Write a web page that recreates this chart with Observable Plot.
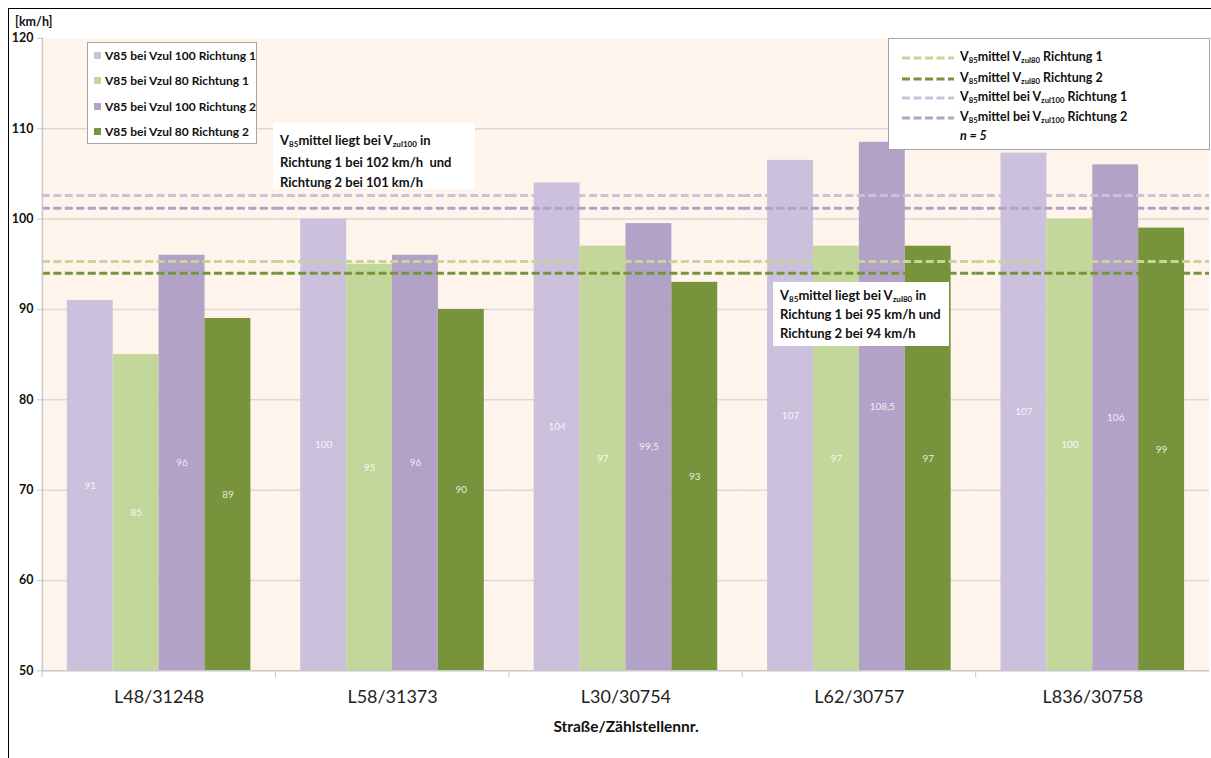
<!DOCTYPE html>
<html><head><meta charset="utf-8">
<script src="https://cdn.jsdelivr.net/npm/d3@7"></script>
<script src="https://cdn.jsdelivr.net/npm/@observablehq/plot@0.6"></script>
<style>
html,body{margin:0;padding:0;overflow:hidden;background:#fff;}
#wrap{position:relative;width:1211px;height:758px;overflow:hidden;font-family:Lato,"Open Sans",sans-serif;color:#111;}
#border{position:absolute;left:8px;top:8px;width:1300px;height:800px;border-left:1.5px solid #000;border-top:1.5px solid #000;pointer-events:none;}
#chart{position:absolute;left:0;top:0;}
.box{position:absolute;background:#fff;font-weight:bold;}
.box sub{font-size:0.62em;vertical-align:-0.25em;line-height:0;}
#unit{position:absolute;left:15px;top:14px;font-weight:bold;font-size:12.5px;}
#xtitle{position:absolute;left:626px;top:717px;transform:translateX(-50%);font-weight:bold;font-size:15.5px;white-space:nowrap;}
.row{position:absolute;white-space:nowrap;font-size:12px;line-height:14px;}
.sw{position:absolute;width:7px;height:7px;}
</style></head>
<body>
<div id="wrap">
  <div id="chart"></div>
  <div id="unit"></div>
  <div id="xtitle"></div>
  <div id="leg1" class="box" style="left:87px;top:42px;width:168px;height:100px;border:1px solid #a6a6a6;"></div>
  <div id="ann1" class="box" style="left:273px;top:123px;width:202px;height:66px;"></div>
  <div id="leg2" class="box" style="left:888px;top:38px;width:320px;height:110px;border:1px solid #a6a6a6;"></div>
  <div id="ann2" class="box" style="left:773px;top:282px;width:176px;height:64px;"></div>
  <div id="border"></div>
</div>
<script>
const categories = ["L48/31248", "L58/31373", "L30/30754", "L62/30757", "L836/30758"];
const seriesNames = ["V85 bei Vzul 100 Richtung 1", "V85 bei Vzul 80 Richtung 1", "V85 bei Vzul 100 Richtung 2", "V85 bei Vzul 80 Richtung 2"];
const seriesColors = ["#ccc1dc", "#c4d79b", "#b2a2c7", "#77933c"];
const v100r1 = [91, 100, 104, 106.5, 107.3];
const v80r1 = [85, 95, 97, 97, 100];
const v100r2 = [96, 96, 99.5, 108.5, 106];
const v80r2 = [89, 90, 93, 97, 99];
const lab100r1 = ["91", "100", "104", "107", "107"];
const lab80r1 = ["85", "95", "97", "97", "100"];
const lab100r2 = ["96", "96", "99,5", "108,5", "106"];
const lab80r2 = ["89", "90", "93", "97", "99"];
const meanNames = ["V<sub>85</sub>mittel V<sub>zul80</sub> Richtung 1", "V<sub>85</sub>mittel V<sub>zul80</sub> Richtung 2", "V<sub>85</sub>mittel bei V<sub>zul100</sub> Richtung 1", "V<sub>85</sub>mittel bei V<sub>zul100</sub> Richtung 2"];
const meanValues = [95.3, 94.0, 102.6, 101.2];
const meanColors = ["#c4d79b", "#77933c", "#ccc1dc", "#b2a2c7"];
const yTicks = [50, 60, 70, 80, 90, 100, 110, 120];
const yUnit = "[km/h]";
const xTitle = "Straße/Zählstellennr.";
const nText = "n = 5";
const ann1Lines = ["V<sub>85</sub>mittel liegt bei V<sub>zul100</sub> in", "Richtung 1 bei 102 km/h&nbsp; und", "Richtung 2 bei 101 km/h"];
const ann2Lines = ["V<sub>85</sub>mittel liegt bei V<sub>zul80</sub> in", "Richtung 1 bei 95 km/h und", "Richtung 2 bei 94 km/h"];

const seriesValues = [v100r1, v80r1, v100r2, v80r2];
const seriesLabels = [lab100r1, lab80r1, lab100r2, lab80r2];
const table = categories.flatMap((c, i) => seriesNames.map((s, j) => ({
  category: c, series: s, value: seriesValues[j][i], label: seriesLabels[j][i], color: seriesColors[j]
})));
const means = meanValues.map((v, i) => ({value: v, color: meanColors[i]}));

const W = 1214, ML = 40, MR = 0;
const fxStep = (W - ML - MR) / categories.length;
const yMin = yTicks[0];

const chart = Plot.plot({
  width: W, height: 758,
  marginLeft: ML, marginRight: MR, marginTop: 38, marginBottom: 86,
  style: {fontFamily: "Lato, sans-serif", background: "transparent", overflow: "visible"},
  fx: {domain: categories, padding: 0, label: null},
  x: {domain: seriesNames, paddingInner: 0, paddingOuter: 0.5, axis: null},
  y: {domain: [yTicks[0], yTicks[yTicks.length - 1]], label: null},
  marks: [
    Plot.frame({fill: "#fef4eb", stroke: null}),
    Plot.gridY(yTicks.slice(1, -1), {stroke: "#d9d9d9", strokeOpacity: 1, strokeWidth: 1.5}),
    Plot.barY(table, {fx: "category", x: "series", y1: yMin, y2: "value", fill: "color"}),
    Plot.ruleY(means, {y: "value", stroke: "color", strokeWidth: 3, strokeDasharray: "8,3.5"}),
    Plot.text(table, {fx: "category", x: "series", y: d => (yMin + d.value) / 2, text: "label", fill: "#ffffff", fillOpacity: 0.85, fontSize: 10}),
    Plot.ruleY([yMin], {stroke: "#c8c8c8", strokeWidth: 1.5}),
    Plot.frame({anchor: "left", facetAnchor: "left", stroke: "#c8c8c8", strokeWidth: 1.5}),
    Plot.axisY({ticks: yTicks, anchor: "left", tickSize: 5, tickPadding: 4, fontWeight: "bold", fontSize: 12.5, fill: "#111", stroke: "#c8c8c8", label: null}),
    Plot.axisFx({anchor: "bottom", tickSize: 0, tickPadding: 19, fontSize: 18, fill: "#222", label: null}),
    Plot.axisFx({anchor: "bottom", tickSize: 7, text: null, dx: -fxStep / 2, stroke: "#c8c8c8", label: null})
  ]
});
document.getElementById("chart").appendChild(chart);

document.getElementById("unit").textContent = yUnit;
document.getElementById("xtitle").textContent = xTitle;

// left legend
const leg1 = document.getElementById("leg1");
const leg1Rows = [13, 38, 64, 89];
seriesNames.forEach((s, i) => {
  const sw = document.createElement("div");
  sw.className = "sw"; sw.style.left = "6px"; sw.style.top = (leg1Rows[i] - 4) + "px"; sw.style.background = seriesColors[i];
  leg1.appendChild(sw);
  const r = document.createElement("div");
  r.className = "row"; r.style.left = "17px"; r.style.top = (leg1Rows[i] - 7) + "px"; r.textContent = s;
  leg1.appendChild(r);
});

// right legend
const leg2 = document.getElementById("leg2");
const leg2Rows = [19, 40, 59, 79, 98];
meanNames.forEach((n, i) => {
  const svg = document.createElementNS("http://www.w3.org/2000/svg", "svg");
  svg.setAttribute("width", 52); svg.setAttribute("height", 6);
  svg.style.position = "absolute"; svg.style.left = "13px"; svg.style.top = (leg2Rows[i] - 3) + "px";
  const ln = document.createElementNS("http://www.w3.org/2000/svg", "line");
  ln.setAttribute("x1", 0); ln.setAttribute("x2", 52); ln.setAttribute("y1", 3); ln.setAttribute("y2", 3);
  ln.setAttribute("stroke", meanColors[i]); ln.setAttribute("stroke-width", 3); ln.setAttribute("stroke-dasharray", "8,3.5");
  svg.appendChild(ln); leg2.appendChild(svg);
  const r = document.createElement("div");
  r.className = "row"; r.style.left = "71px"; r.style.top = (leg2Rows[i] - 8) + "px"; r.style.fontSize = "12.5px"; r.innerHTML = n;
  leg2.appendChild(r);
});
const nr = document.createElement("div");
nr.className = "row"; nr.style.left = "71px"; nr.style.top = (leg2Rows[4] - 8) + "px"; nr.style.fontStyle = "italic"; nr.style.fontSize = "12.5px"; nr.textContent = nText;
leg2.appendChild(nr);

function fillAnn(id, lines, tops) {
  const el = document.getElementById(id);
  lines.forEach((t, i) => {
    const r = document.createElement("div");
    r.className = "row"; r.style.left = "7px"; r.style.top = tops[i] + "px"; r.style.fontSize = "13px"; r.innerHTML = t;
    el.appendChild(r);
  });
}
fillAnn("ann1", ann1Lines, [10, 32, 52]);
fillAnn("ann2", ann2Lines, [6, 25, 44]);
</script>
</body></html>
